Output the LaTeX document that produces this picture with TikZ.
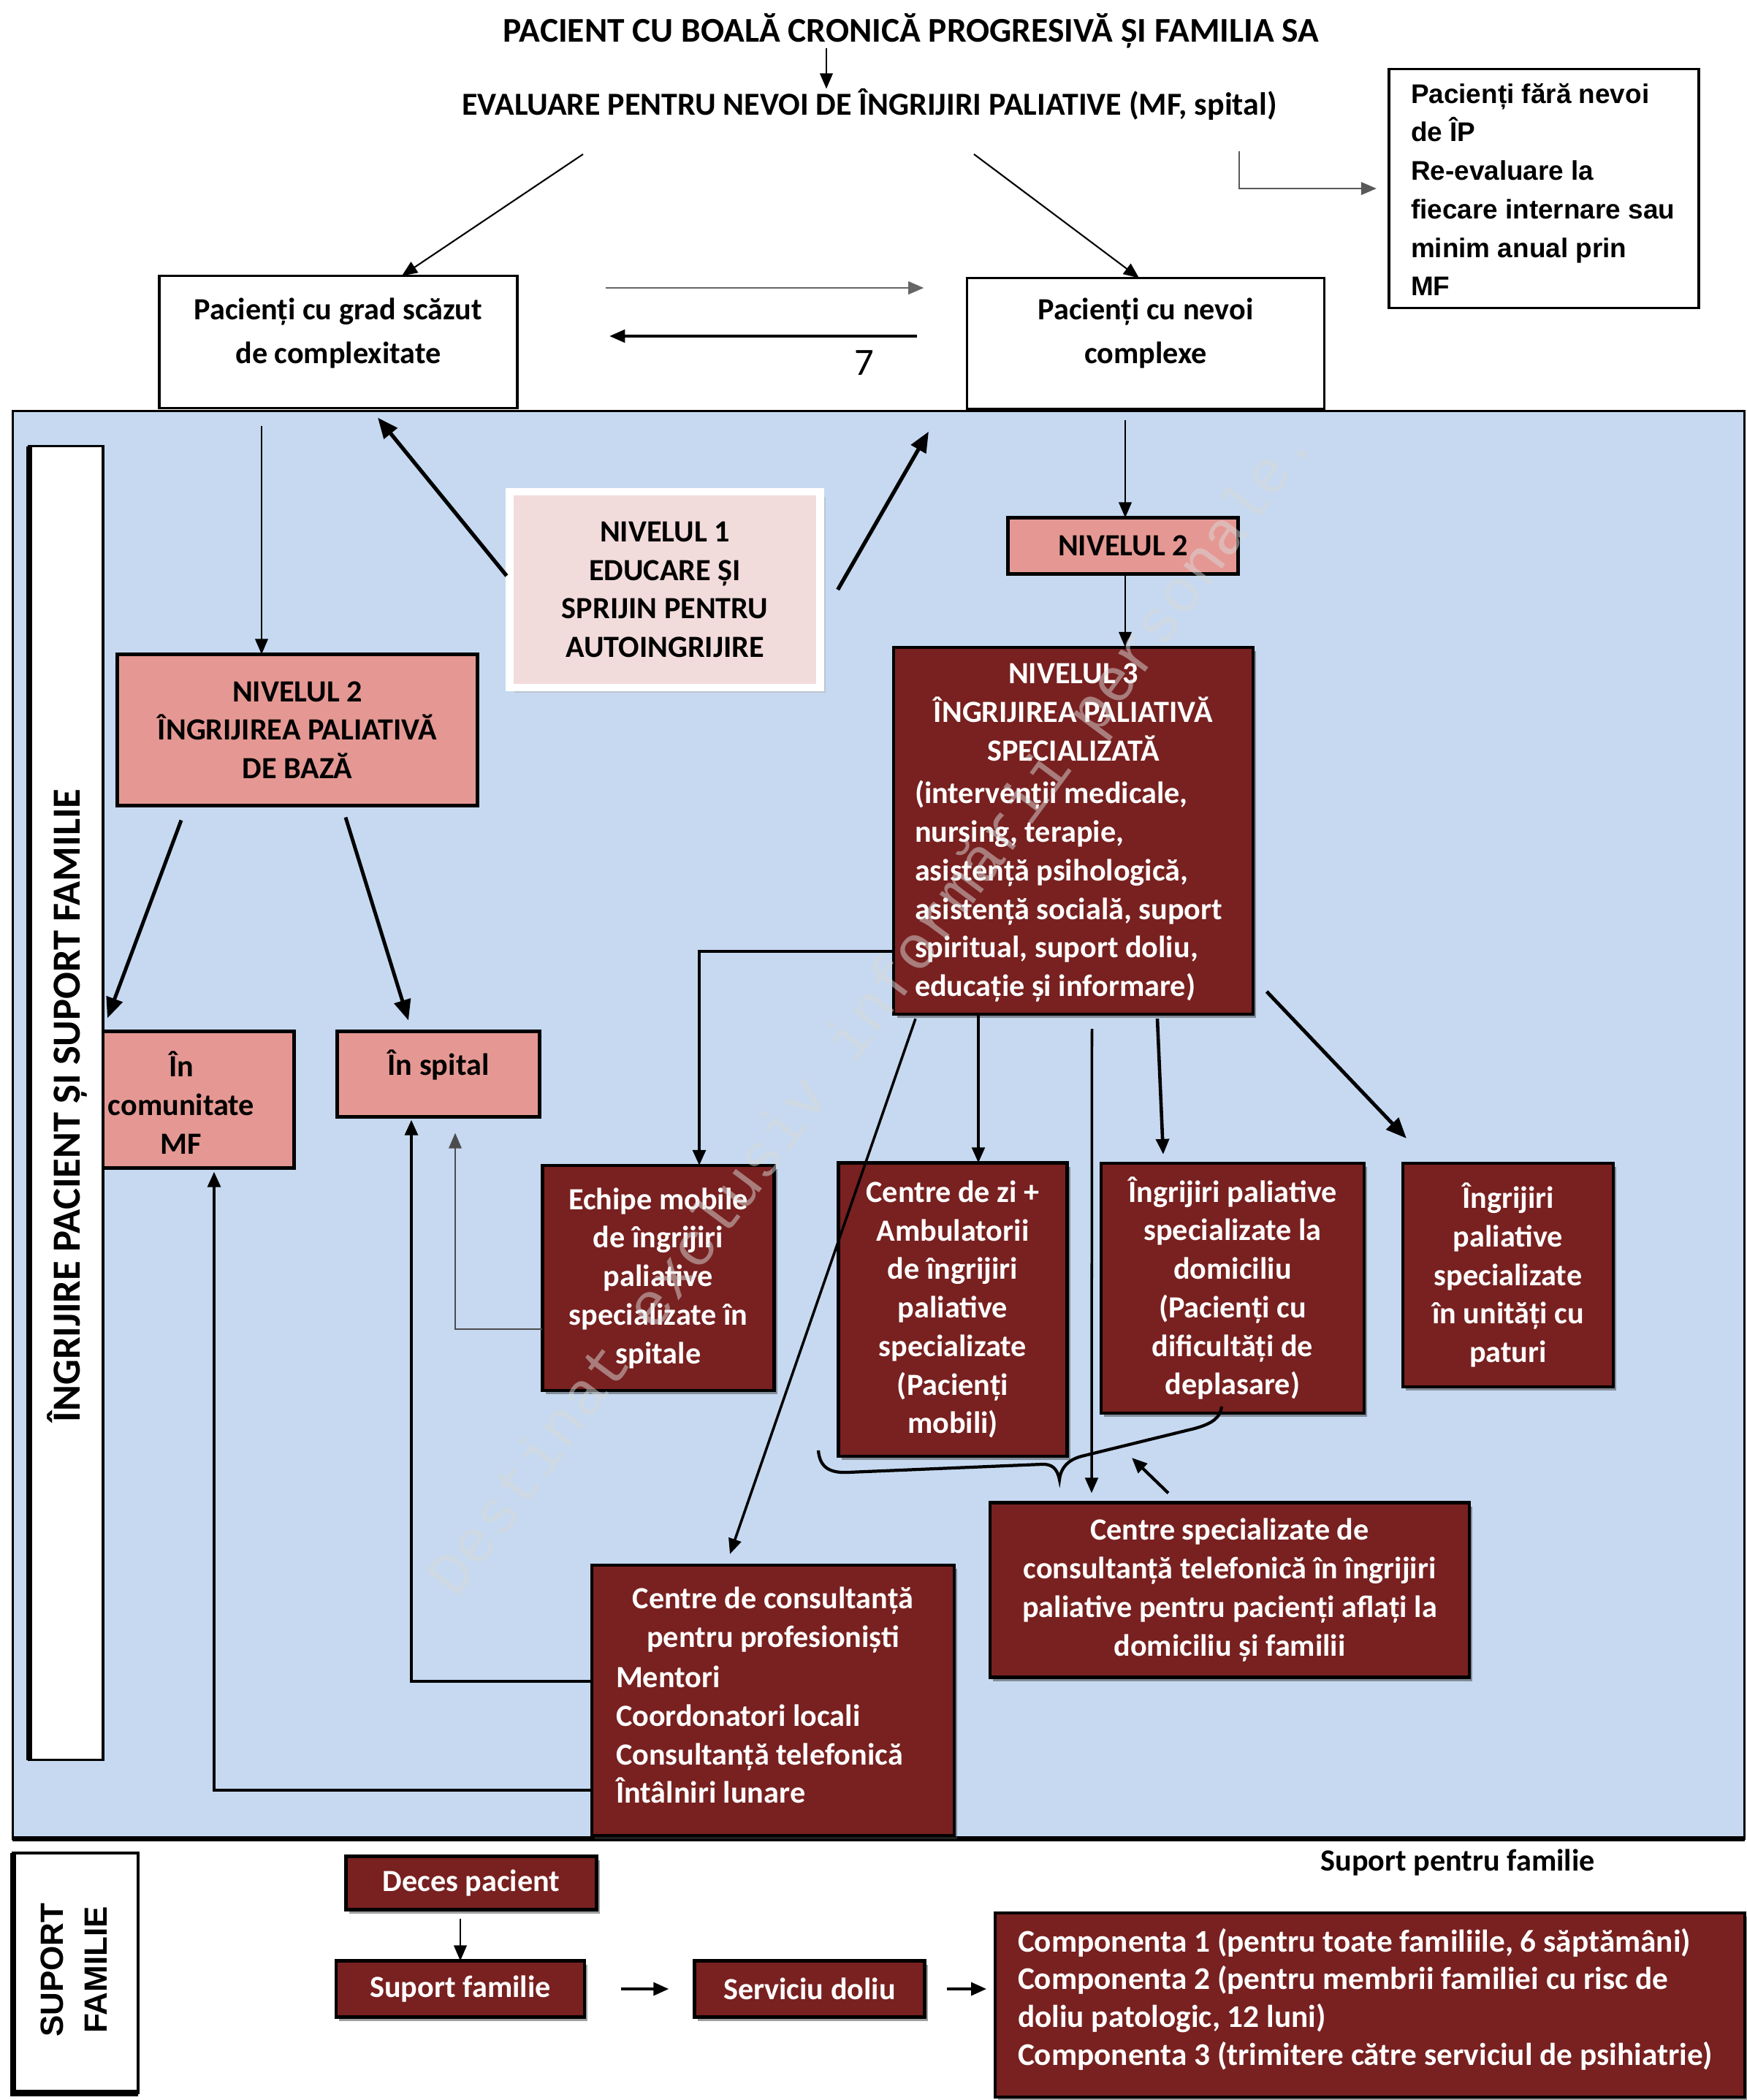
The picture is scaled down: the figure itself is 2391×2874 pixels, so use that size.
\documentclass[tikz,border=0pt]{standalone}
\usepackage{fontspec}
\setmainfont{Carlito}
\newfontfamily\arialf{Liberation Sans}
\newfontfamily\monof{Liberation Mono}
\usetikzlibrary{arrows.meta,calc,shadows}
\definecolor{panelblue}{RGB}{198,217,241}
\definecolor{darkred}{RGB}{120,33,32}
\definecolor{salmon}{RGB}{229,152,147}
\definecolor{palepink}{RGB}{242,220,219}
\begin{document}
\begin{tikzpicture}[x=0.01cm,y=-0.01cm,
  every node/.style={inner sep=0pt,outer sep=0pt},
  txt/.style={font=\bfseries\fontsize{12}{15}\selectfont,align=center},
  txtb/.style={font=\bfseries\fontsize{12}{17}\selectfont,align=center},
  wtxt/.style={txt,text=white},
  ttl/.style={font=\bfseries\fontsize{13.5}{15}\selectfont},
  ftxt/.style={font=\arialf\bfseries\fontsize{10.5}{15}\selectfont,align=left},
  wbox/.style={draw=black,line width=1pt,fill=white},
  salbox/.style={draw=black,line width=1.4pt,fill=salmon},
  redbox/.style={draw=black,line width=1.2pt,fill=darkred,
                 drop shadow={shadow xshift=1.2pt,shadow yshift=-1.5pt,fill=black!75}},
  tip/.style={-{Triangle[length=6pt,width=5pt]}},
  thinarr/.style={tip,line width=0.6pt},
  medarr/.style={tip,line width=1pt},
  thickarr/.style={-{Triangle[length=8pt,width=6.5pt]},line width=1.5pt},
]
\fill[white] (0,0) rectangle (2391,2874);
\useasboundingbox (0,0) rectangle (2391,2874);

% ---------- top ----------
\node[ttl] (title) at (1247,42) {PACIENT CU BOALĂ CRONICĂ PROGRESIVĂ ȘI FAMILIA SA};
\node[font=\bfseries\fontsize{12.5}{14}\selectfont] (eval) at (1190,143) {EVALUARE PENTRU NEVOI DE ÎNGRIJIRI PALIATIVE (MF, spital)};

\node[wbox,minimum width=4.24cm,minimum height=3.27cm] (fara) at (2113,258) {};
\node[ftxt,anchor=north west] (farat) at (1931,114) {Pacienți fără nevoi\\de ÎP\\Re-evaluare la\\fiecare internare sau\\minim anual prin\\MF};

\node[wbox,minimum width=4.90cm,minimum height=1.81cm] (lowc) at (463,468) {};
\node[txtb] (lowct) at (463,456) {Pacienți cu grad scăzut\\de complexitate};
\node[wbox,minimum width=4.89cm,minimum height=1.79cm] (cplx) at (1568,470) {};
\node[txtb] (cplxt) at (1568,456) {Pacienți cu nevoi\\complexe};
\node[font=\fontsize{15}{18}\selectfont] (seven) at (1183,497) {7};

% ---------- panel ----------
\node[fill=panelblue,draw=black,line width=0.8pt,minimum width=23.69cm,minimum height=19.53cm] (panel) at (1202.5,1539.5) {};
\draw[line width=2pt] (panel.south west) -- (panel.south east);

\node[salbox,minimum width=2.64cm,minimum height=1.87cm] (comm) at (270,1505) {};
\node[txt] (commt) at (248,1509) {În\\comunitate\\MF};

\node[wbox,minimum width=1.01cm,minimum height=17.97cm] (lab) at (90.5,1509.5) {};
\draw[line width=2.5pt] (lab.north west) -- (lab.south west);
\node[rotate=90,font=\bfseries\fontsize{15.5}{17}\selectfont] (labt) at (92,1513) {ÎNGRIJIRE PACIENT ȘI SUPORT FAMILIE};

\node[fill=palepink,draw=white,line width=3pt,minimum width=4.25cm,minimum height=2.68cm,txt,
      drop shadow={shadow xshift=2pt,shadow yshift=-2pt,fill=gray!60}] (niv1) at (910,807)
      {NIVELUL 1\\EDUCARE ȘI\\SPRIJIN PENTRU\\AUTOINGRIJIRE};
\node[salbox,txt,minimum width=3.15cm,minimum height=0.77cm] (niv2s) at (1537,747) {NIVELUL 2};

\node[redbox,minimum width=4.91cm,minimum height=5.02cm] (niv3) at (1469,1137) {};
\node[wtxt] (niv3a) at (1469,975) {NIVELUL 3\\ÎNGRIJIREA PALIATIVĂ\\SPECIALIZATĂ};
\node[wtxt,align=left,anchor=west] (niv3b) at (1252,1220) {(intervenții medicale,\\nursing, terapie,\\asistență psihologică,\\asistență socială, suport\\spiritual, suport doliu,\\educație și informare)};

\node[salbox,txt,minimum width=4.92cm,minimum height=2.07cm] (niv2b) at (407,999) {NIVELUL 2\\ÎNGRIJIREA PALIATIVĂ\\DE BAZĂ};
\node[salbox,minimum width=2.77cm,minimum height=1.17cm] (spit) at (600,1470) {};
\node[txt] (spitt) at (600,1457) {În spital};

\node[redbox,wtxt,minimum width=3.17cm,minimum height=3.08cm] (echipe) at (901,1749) {Echipe mobile\\de îngrijiri\\paliative\\specializate în\\spitale};
\node[redbox,wtxt,minimum width=3.13cm,minimum height=4.01cm] (zi) at (1304,1792) {Centre de zi +\\Ambulatorii\\de îngrijiri\\paliative\\specializate\\(Pacienți\\mobili)};
\node[redbox,wtxt,minimum width=3.60cm,minimum height=3.42cm] (dom) at (1687,1763) {Îngrijiri paliative\\specializate la\\domiciliu\\(Pacienți cu\\dificultăți de\\deplasare)};
\node[redbox,wtxt,minimum width=2.88cm,minimum height=3.06cm] (pat) at (2064,1745) {Îngrijiri\\paliative\\specializate\\în unități cu\\paturi};
\node[redbox,wtxt,minimum width=6.56cm,minimum height=2.39cm] (tel) at (1683,2176) {Centre specializate de\\consultanță telefonică în îngrijiri\\paliative pentru pacienți aflați la\\domiciliu și familii};
\node[redbox,minimum width=4.96cm,minimum height=3.70cm] (prof) at (1058,2327) {};
\node[wtxt] (profa) at (1058,2217) {Centre de consultanță\\pentru profesioniști};
\node[wtxt,align=left,anchor=west] (profb) at (843,2374) {Mentori\\Coordonatori locali\\Consultanță telefonică\\Întâlniri lunare};

% ---------- bottom ----------
\node[wbox,minimum width=1.71cm,minimum height=3.28cm] (suplab) at (103.5,2700) {};
\draw[line width=2.5pt] (suplab.north west) -- (suplab.south west) -- (suplab.south east);
\node[rotate=90,align=center,font=\arialf\bfseries\fontsize{12.5}{17}\selectfont] (suplabt) at (101,2696) {SUPORT\\FAMILIE};
\node[redbox,wtxt,minimum width=3.43cm,minimum height=0.73cm] (deces) at (645,2577) {Deces pacient};
\node[redbox,wtxt,minimum width=3.40cm,minimum height=0.77cm] (sfam) at (630,2722) {Suport familie};
\node[redbox,wtxt,minimum width=3.15cm,minimum height=0.77cm] (doliu) at (1108,2722) {Serviciu doliu};
\node[redbox,minimum width=10.25cm,minimum height=2.52cm] (comp) at (1875,2744) {};
\node[wtxt,align=left,anchor=west,font=\bfseries\fontsize{12.3}{14.7}\selectfont] (compt) at (1393,2736) {Componenta 1 (pentru toate familiile, 6 săptămâni)\\Componenta 2 (pentru membrii familiei cu risc de\\doliu patologic, 12 luni)\\Componenta 3 (trimitere către serviciul de psihiatrie)};
\node[txt] (supt) at (1995,2549) {Suport pentru familie};

% ---------- connectors ----------
\coordinate (ta) at (1131,0);
\draw[thinarr] (title.south -| ta) -- (eval.north -| ta);
\draw[thinarr] ($(eval)+(-392,68)$) -- ($(lowc.north)+(87,0)$);
\draw[thinarr] ($(eval)+(143,68)$) -- ($(cplx.north)+(-9,0)$);
\coordinate (f1) at ($(eval)+(506,64)$);
\draw[thinarr,draw=gray!70!black,shorten >=0.17cm] (f1) |- (fara.west);
\coordinate (r1) at (0,394);
\coordinate (r2) at (0,460);
\draw[thinarr,draw=gray!80!black,shorten <=1.21cm,shorten >=0.59cm] (lowc.east |- r1) -- (cplx.west |- r1);
\draw[thinarr,line width=0.9pt,shorten <=0.68cm,shorten >=1.26cm] (cplx.west |- r2) -- (lowc.east |- r2);

\draw[thickarr] ($(niv1.west)+(-4,-19)$) -- ($(lowc.south)+(54,13)$);
\draw[thickarr] ($(niv1.east)+(24,0)$) -- ($(cplx.south)+(-297,31)$);
\draw[thinarr] ($(lowc.south)+(-105,24)$) -- ($(niv2b.north)+(-49,0)$);
\draw[thinarr] ($(cplx.south)+(-28,15)$) -- ($(niv2s.north)+(3,0)$);
\draw[thinarr] ($(niv2s.south)+(3,0)$) -- ($(niv3.north)+(71,0)$);
\draw[thickarr,line width=1.4pt] ($(niv2b.south)+(-159,20)$) -- ($(comm.north)+(-123,-18)$);
\draw[thickarr,line width=1.4pt] ($(niv2b.south)+(66,16)$) -- ($(spit.north)+(-41,-15)$);
\draw[medarr,line width=1.2pt] ($(niv3.west)+(0,165)$) -| ($(echipe.north)+(56,0)$);
\coordinate (zin) at ($(zi.north)+(35,0)$);
\draw[medarr] (zin |- niv3.south) -- (zin);
\draw[medarr,line width=1.3pt] ($(niv3.south)+(115,6)$) -- ($(dom.north)+(-95,-12)$);
\draw[thickarr,line width=1.4pt] ($(niv3.east)+(19,220)$) -- ($(pat.north west)+(5,-34)$);
\draw[medarr] ($(niv3.south)+(-216,6)$) -- ($(prof.north)+(-59,-15)$);
\draw[medarr] ($(niv3.south)+(25.5,20)$) -- ($(tel.north)+(-189,-13)$);
\coordinate (bt) at (1549,1995);
\draw[medarr,line width=1.2pt] ($(tel.north)+(-84,-13)$) -- (bt);
\draw[line width=1.2pt] (1120,1985) .. controls (1122,2008) and (1135,2016) .. (1160,2015) -- (1425,2004) .. controls (1440,2003) and (1447,2010) .. (1450,2025) .. controls (1452,2008) and (1462,1998) .. (1480,1993) -- (1635,1955) .. controls (1660,1948) and (1670,1940) .. (1672,1925);
\draw[thinarr,draw=gray!60!black,line width=0.5pt] ($(echipe.west)+(0,70)$) -| ($(spit.south)+(23,22)$);
\draw[medarr,line width=1.2pt] ($(prof.west)+(0,-26)$) -| ($(spit.south)+(-37,4)$);
\draw[medarr,line width=1.2pt] ($(prof.west)+(0,123)$) -| ($(comm.south)+(23,5)$);

\draw[thinarr,shorten <=0.12cm] (sfam.north |- deces.south) -- (sfam.north);
\draw[medarr,line width=1.2pt,shorten <=0.5cm,shorten >=0.35cm] (sfam.east) -- (doliu.west);
\draw[medarr,line width=1.2pt,shorten <=0.3cm,shorten >=0.12cm] (doliu.east) -- (comp.west |- doliu.east);

% ---------- watermark ----------
\node[rotate=53.4,font=\monof\fontsize{24}{24}\selectfont,text=white!70!gray,opacity=0.5] (wm) at (1196,1384) {Destinat exclusiv informării personale.};
\end{tikzpicture}
\end{document}
